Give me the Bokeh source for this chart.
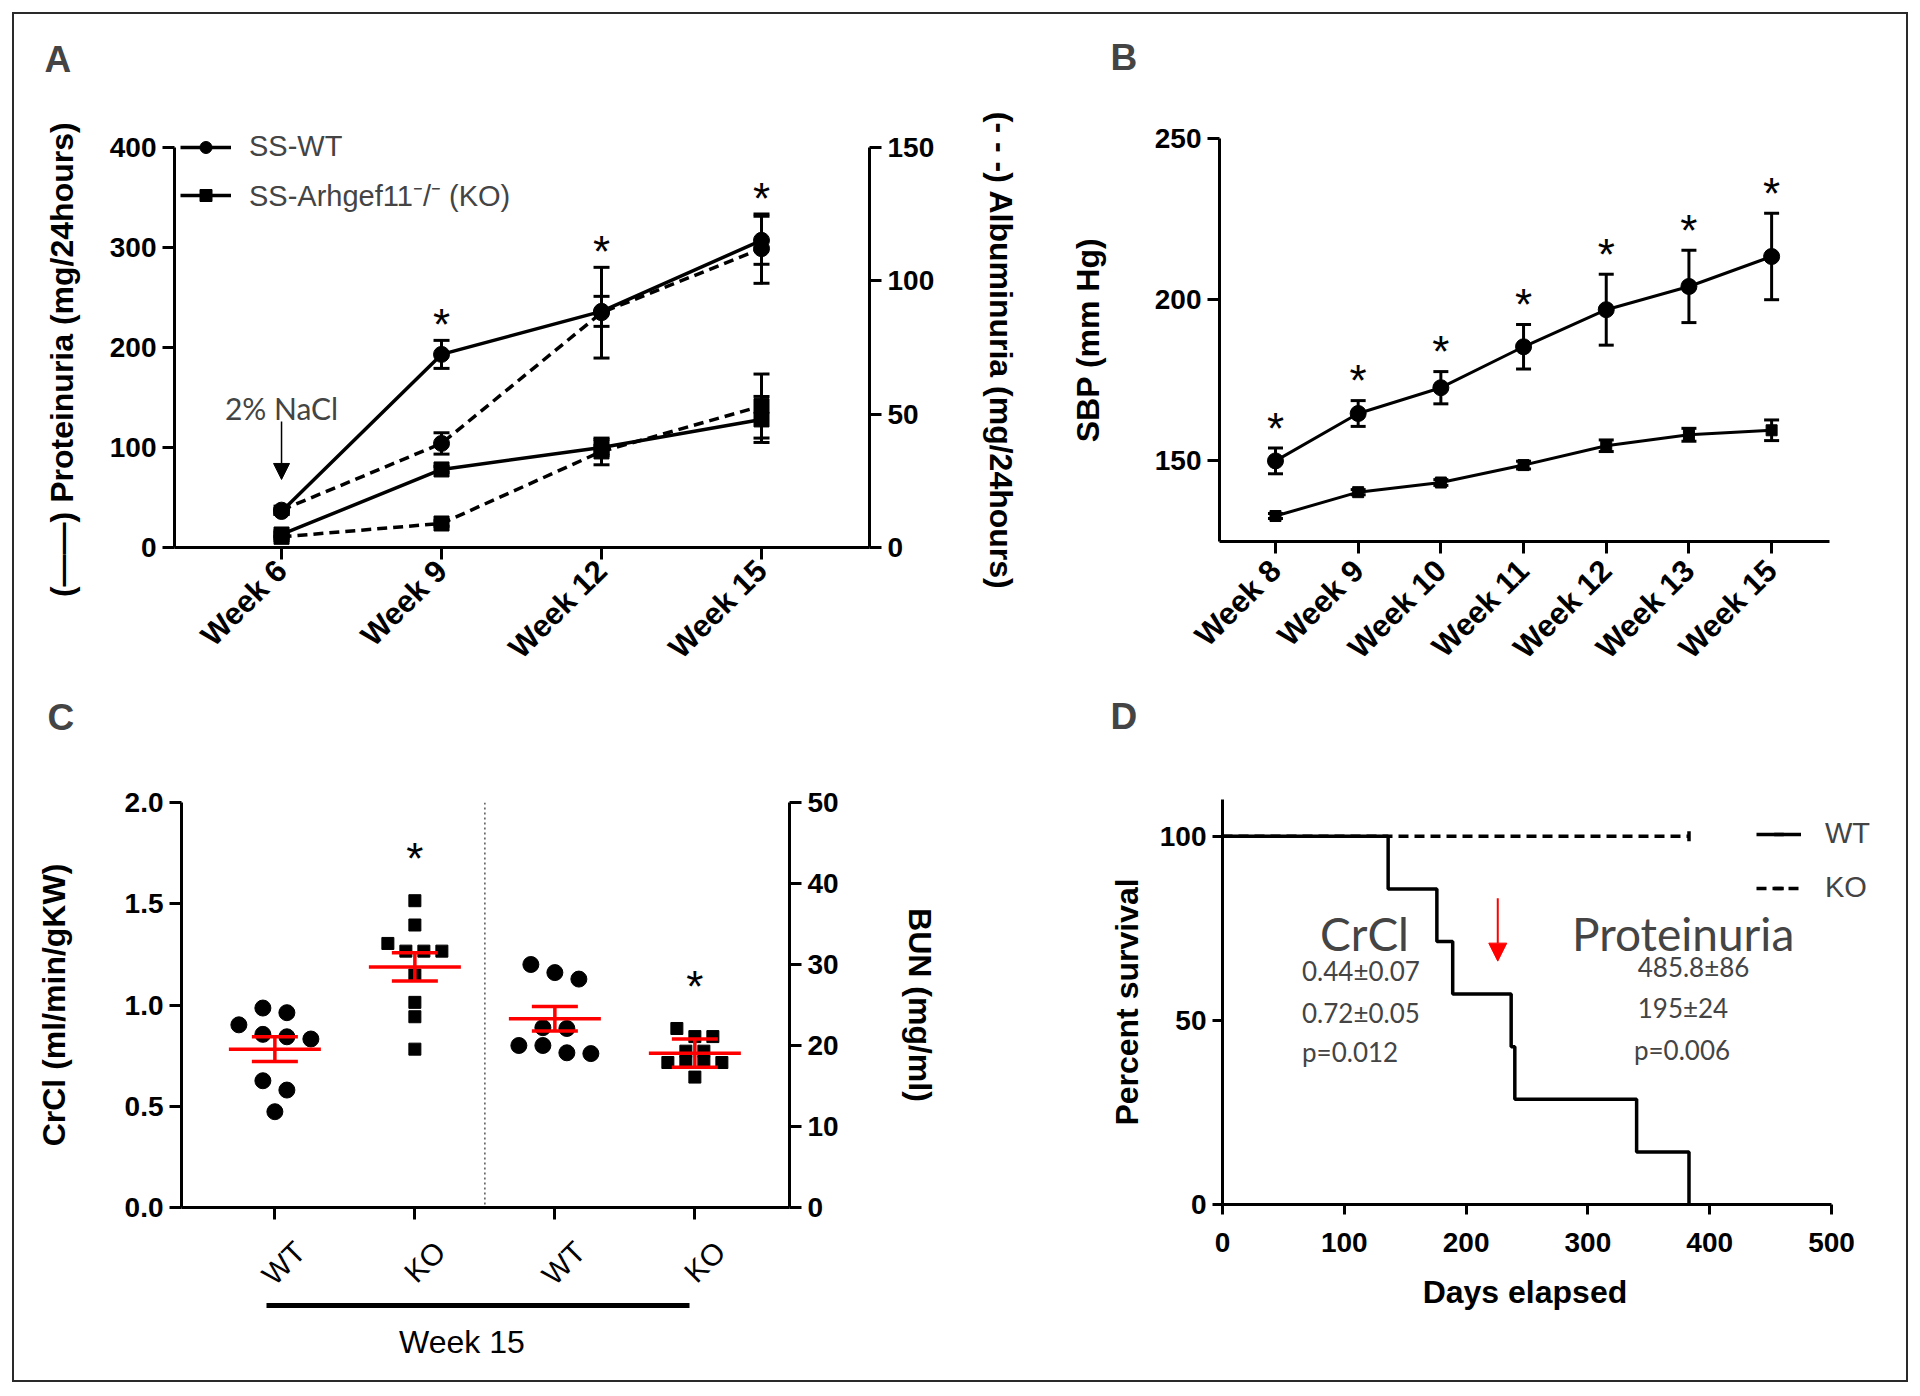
import math
import numpy as np
from bokeh.plotting import figure
from bokeh.models import (Range1d, LinearAxis, FixedTicker, Legend, LegendItem, Label,
                          Arrow, NormalHead, Span, NumeralTickFormatter, Div)
from bokeh.embed import file_html
from bokeh.resources import INLINE
from bokeh.core.properties import value

ARIAL = "Liberation Sans"
CALI = "Lato"
NB = "\u00a0"

# ---------------- Panel A data ----------------
weeks_a = ["Week 6", "Week 9", "Week 12", "Week 15"]
prot_wt = [36, 193, 236, 307]
prot_wt_sem = [3, 14, 15, 24]
prot_ko = [13, 78, 100, 128]
prot_ko_sem = [2, 3, 8, 23]
alb_wt = [14, 39, 88, 112]
alb_wt_sem = [1.5, 4, 17, 13]
alb_ko = [4, 9, 36, 53]
alb_ko_sem = [0.5, 1, 5, 12]
sig_a = [False, True, True, True]

# ---------------- Panel B data ----------------
weeks_b = ["Week 8", "Week 9", "Week 10", "Week 11", "Week 12", "Week 13", "Week 15"]
sbp_wt = [150.0, 164.7, 172.7, 185.4, 196.9, 204.1, 213.4]
sbp_wt_sem = [4.0, 4.0, 5.0, 6.9, 11.0, 11.2, 13.4]
sbp_ko = [132.9, 140.3, 143.3, 148.7, 154.7, 158.1, 159.5]
sbp_ko_sem = [0.8, 0.8, 0.9, 1.2, 1.8, 2.0, 3.2]
sig_b = [True] * 7

# ---------------- Panel C data ----------------
groups_c = ["WT", "KO", "WT", "KO"]
crcl_wt = [0.985, 0.962, 0.902, 0.855, 0.843, 0.832, 0.626, 0.580, 0.473]
crcl_ko = [1.515, 1.395, 1.304, 1.266, 1.266, 1.266, 1.148, 1.013, 0.942, 0.782]
bun_wt = [30.0, 29.0, 28.2, 22.2, 22.1, 20.0, 20.0, 19.1, 19.0]
bun_ko = [22.1, 21.1, 21.1, 19.3, 19.3, 17.9, 17.9, 17.9, 17.9, 16.1]
c_mean = [0.782, 1.188, 23.3, 19.05]
c_sem = [0.061, 0.070, 1.5, 1.75]
sig_c = [False, True, False, True]
group_label_c = "Week 15"

# ---------------- Panel D data ----------------
wt_death_days = [136, 176, 189, 237, 240, 340, 383]
ko_last_day = 383
crcl_text = ["0.44\u00b10.07", "0.72\u00b10.05", "p=0.012"]
prot_text = ["485.8\u00b186", "195\u00b124", "p=0.006"]
arrow_day = 226


def base_fig(w, h, L, R, T, B, xr, yr, letter, l_off, l_stand):
    p = figure(width=w, height=h, x_range=xr, y_range=yr, output_backend="svg",
               toolbar_location=None, min_border_left=L, min_border_right=R,
               min_border_top=T, min_border_bottom=B, title=letter)
    p.xgrid.visible = False
    p.ygrid.visible = False
    p.outline_line_color = None
    p.border_fill_color = None
    p.background_fill_color = None
    p.title.text_font = ARIAL
    p.title.text_font_size = "37px"
    p.title.text_font_style = "bold"
    p.title.align = "left"
    p.title.offset = l_off
    p.title.standoff = l_stand
    return p


def place(p, left, top):
    p.styles = {"position": "absolute", "left": f"{left}px", "top": f"{top}px"}


def style_axis(ax, bold=True, tick_out=12, standoff=6, size="28px"):
    ax.axis_line_width = 3
    ax.axis_line_color = "black"
    ax.major_tick_line_width = 3
    ax.major_tick_line_color = "black"
    ax.major_tick_out = tick_out
    ax.major_tick_in = 0
    ax.minor_tick_line_color = None
    ax.major_label_text_font = ARIAL
    ax.major_label_text_font_size = size
    ax.major_label_text_font_style = "bold" if bold else "normal"
    ax.major_label_text_color = "black"
    ax.major_label_standoff = standoff
    ax.axis_label_text_font = ARIAL
    ax.axis_label_text_font_size = "32px"
    ax.axis_label_text_font_style = "bold"
    ax.axis_label_text_color = "black"


def errbars(p, x, mean, sem, cap=16, lw=3, color="black", yr="default"):
    lo = [m - s for m, s in zip(mean, sem)]
    hi = [m + s for m, s in zip(mean, sem)]
    p.segment(x0=list(x), y0=lo, x1=list(x), y1=hi, line_width=lw, line_color=color,
              y_range_name=yr)
    p.scatter(x=list(x) * 2, y=lo + hi, marker="dash", size=cap, line_width=lw,
              line_color=color, y_range_name=yr)


def stars(p, xs, tops, sig, pad_units, size="44px", yr="default"):
    sx = [x for x, s in zip(xs, sig) if s]
    sy = [t + pad_units for t, s in zip(tops, sig) if s]
    p.text(x=sx, y=sy, text=["*"] * len(sx), text_align="center", text_baseline="middle",
           text_font=value(ARIAL), text_font_size=size, y_offset=10, y_range_name=yr)


# =============== Panel A ===============
A_PX = 405 / 400.0            # pixels per mg
A_TOP = 400 + 20 / A_PX       # headroom above the axis for the legend
xa = list(range(len(weeks_a)))
pA = base_fig(1060, 700, 176, 189, 147, 128, Range1d(-0.669, 3.675), Range1d(0, A_TOP),
              "A", -130, 96)
place(pA, -2, -20)
pA.extra_y_ranges = {"alb": Range1d(0, 150 * A_TOP / 400)}
style_axis(pA.xaxis[0], standoff=6, size="31px")
pA.xaxis.ticker = FixedTicker(ticks=xa)
pA.xaxis.major_label_overrides = {i: w for i, w in zip(xa, weeks_a)}
pA.xaxis.major_label_orientation = math.pi / 4
style_axis(pA.yaxis[0])
pA.yaxis.ticker = FixedTicker(ticks=[0, 100, 200, 300, 400])
pA.yaxis.bounds = (0, 400)
pA.yaxis.axis_label = "(\u2014\u2014) Proteinuria (mg/24hours)" + NB * 5
pA.yaxis.axis_label_standoff = 27
axR = LinearAxis(y_range_name="alb", ticker=FixedTicker(ticks=[0, 50, 100, 150]),
                 axis_label=NB * 3 + "(- - -) Albuminuria (mg/24hours)", bounds=(0, 150))
style_axis(axR)
axR.axis_label_standoff = 46
pA.add_layout(axR, "right")

alb_to_left = 400.0 / 150.0
l_ko = pA.line(xa, prot_ko, line_width=3.5, line_color="black")
pA.line(xa, alb_ko, line_width=3.5, line_color="black", line_dash="10 6", y_range_name="alb")
l_wt = pA.line(xa, prot_wt, line_width=3.5, line_color="black")
pA.line(xa, alb_wt, line_width=3.5, line_color="black", line_dash="10 6", y_range_name="alb")
errbars(pA, xa, prot_wt, prot_wt_sem)
errbars(pA, xa, prot_ko, prot_ko_sem)
errbars(pA, xa, alb_wt, alb_wt_sem, yr="alb")
errbars(pA, xa, alb_ko, alb_ko_sem, yr="alb")
m_ko = pA.scatter(xa, prot_ko, marker="square", size=15, color="black")
pA.scatter(xa, alb_ko, marker="square", size=15, color="black", y_range_name="alb")
m_wt = pA.scatter(xa, prot_wt, marker="circle", size=16, color="black")
pA.scatter(xa, alb_wt, marker="circle", size=16, color="black", y_range_name="alb")

tops_a = [max(a + b, c + d, (e + f) * alb_to_left, (g + h) * alb_to_left)
          for a, b, c, d, e, f, g, h in zip(prot_wt, prot_wt_sem, prot_ko, prot_ko_sem,
                                            alb_wt, alb_wt_sem, alb_ko, alb_ko_sem)]
stars(pA, xa, tops_a, sig_a, 26 / A_PX)

legA = Legend(items=[LegendItem(label="SS-WT", renderers=[l_wt, m_wt]),
                     LegendItem(label="SS-Arhgef11\u207b/\u207b (KO)", renderers=[l_ko, m_ko])],
              location=(6, 333), glyph_width=51, glyph_height=30, label_height=30,
              spacing=12, padding=0, margin=0, label_standoff=18,
              label_text_font=ARIAL, label_text_font_size="29px",
              border_line_color=None, background_fill_alpha=0)
pA.add_layout(legA)

pA.add_layout(Arrow(end=NormalHead(size=16, fill_color="black", line_color="black"),
                    x_start=xa[0], y_start=126, x_end=xa[0], y_end=68, line_width=1.5))
pA.add_layout(Label(x=xa[0], y=139, text="2% NaCl", text_font=CALI, text_font_size="30px",
                    text_align="center", text_baseline="middle"))

# =============== Panel B ===============
xb = list(range(len(weeks_b)))
pB = base_fig(860, 710, 161, 89, 168, 134, Range1d(-0.677, 6.70), Range1d(125, 250),
              "B", -109, 122)
place(pB, 1058, -30)
style_axis(pB.xaxis[0], standoff=12, size="31px")
pB.xaxis.ticker = FixedTicker(ticks=xb)
pB.xaxis.major_label_overrides = {i: w for i, w in zip(xb, weeks_b)}
pB.xaxis.major_label_orientation = math.pi / 4
style_axis(pB.yaxis[0])
pB.yaxis.ticker = FixedTicker(ticks=[150, 200, 250])
pB.yaxis.axis_label = "SBP (mm Hg)"
pB.yaxis.axis_label_standoff = 46

pB.line(xb, sbp_wt, line_width=3, line_color="black")
pB.line(xb, sbp_ko, line_width=3, line_color="black")
errbars(pB, xb, sbp_wt, sbp_wt_sem, cap=15)
errbars(pB, xb, sbp_ko, sbp_ko_sem, cap=15)
pB.scatter(xb, sbp_wt, marker="circle", size=16, color="black")
pB.scatter(xb, sbp_ko, marker="square", size=11, color="black")
tops_b = [m + s for m, s in zip(sbp_wt, sbp_wt_sem)]
stars(pB, xb, tops_b, sig_b, 30 * 125 / 408)

# =============== Panel C ===============
xc = list(range(len(groups_c)))
pC = base_fig(1060, 772, 183, 269, 182, 185, Range1d(-0.667, 3.676), Range1d(0, 2),
              "C", -134, 130)
place(pC, -2, 620)
pC.extra_y_ranges = {"bun": Range1d(0, 50)}
style_axis(pC.xaxis[0], bold=False, standoff=0, size="0px")
pC.xaxis.ticker = FixedTicker(ticks=xc)
pC.xaxis.major_label_overrides = {i: "" for i in xc}
style_axis(pC.yaxis[0])
pC.yaxis.ticker = FixedTicker(ticks=[0, 0.5, 1.0, 1.5, 2.0])
pC.yaxis.formatter = NumeralTickFormatter(format="0.0")
pC.yaxis.axis_label = "CrCl (ml/min/gKW)"
pC.yaxis.axis_label_standoff = 50
axRC = LinearAxis(y_range_name="bun", ticker=FixedTicker(ticks=[0, 10, 20, 30, 40, 50]),
                  axis_label="BUN (mg/ml)")
style_axis(axRC)
axRC.axis_label_standoff = 60
pC.add_layout(axRC, "right")

# rotated group names, anchored slightly right of each tick (as in the original)
lab_pos = [x + 0.18 for x in xc]
axL = LinearAxis(ticker=FixedTicker(ticks=lab_pos),
                 major_label_overrides={x: g for x, g in zip(lab_pos, groups_c)})
style_axis(axL, bold=False, tick_out=0, standoff=27, size="30px")
axL.axis_line_color = None
axL.major_tick_line_color = None
axL.major_label_orientation = math.pi / 4
pC.add_layout(axL, "below")

# group bar + "Week 15" under the categories
c_mid = 1.336
axG = LinearAxis(bounds=(xc[0] - 0.06, xc[-1] - 0.04), ticker=FixedTicker(ticks=[c_mid]),
                 major_label_overrides={c_mid: group_label_c})
style_axis(axG, bold=False, tick_out=0, standoff=18, size="32px")
axG.axis_line_width = 5
axG.major_tick_line_color = None
pC.add_layout(axG, "below")

PX_PER_CAT = 608 / (3.676 + 0.667)


def swarm(vals, px_per_unit, bin_px, step_px):
    order = sorted(range(len(vals)), key=lambda i: -vals[i])
    offs = [0.0] * len(vals)
    i = 0
    while i < len(order):
        top = vals[order[i]]
        grp = [order[i]]
        j = i + 1
        while j < len(order) and (top - vals[order[j]]) * px_per_unit < bin_px:
            grp.append(order[j])
            j += 1
        n = len(grp)
        for k, idx in enumerate(grp):
            offs[idx] = (k - (n - 1) / 2) * step_px / PX_PER_CAT
        i = j
    return offs


series_c = [(crcl_wt, "circle", "default", 405 / 2.0),
            (crcl_ko, "square", "default", 405 / 2.0),
            (bun_wt, "circle", "bun", 405 / 50.0),
            (bun_ko, "square", "bun", 405 / 50.0)]
pC.add_layout(Span(location=1.5, dimension="height", line_color="#555555", line_width=1.5,
                   line_dash="2 3"))
tops_c = []
for xi, (vals, mk, yr, ppu) in zip(xc, series_c):
    if mk == "circle":
        offs = swarm(vals, ppu, 15, 24)
        pC.scatter([xi + o for o in offs], vals, marker="circle", size=16, color="black",
                   y_range_name=yr)
    else:
        offs = swarm(vals, ppu, 11, 18)
        pC.scatter([xi + o for o in offs], vals, marker="square", size=12, color="black",
                   y_range_name=yr)
    tops_c.append((max(vals), ppu, yr))

for xi, m, s, (_, _, yr) in zip(xc, c_mean, c_sem, tops_c):
    pC.segment(x0=[xi], y0=[m - s], x1=[xi], y1=[m + s], line_color="red", line_width=3.5,
               y_range_name=yr)
    pC.scatter([xi], [m], marker="dash", size=92, line_color="red", line_width=3.5,
               y_range_name=yr)
    pC.scatter([xi, xi], [m - s, m + s], marker="dash", size=46, line_color="red",
               line_width=3.5, y_range_name=yr)

for xi, sg, (tp, ppu, yr) in zip(xc, sig_c, tops_c):
    stars(pC, [xi], [tp], [sg], 52 / ppu, yr=yr)

# =============== Panel D ===============
D_PX = 609 / 500.0
pD = base_fig(860, 772, 164, 20, 179, 188, Range1d(0, (860 - 164 - 20) / D_PX),
              Range1d(0, 110), "D", -112, 125)
place(pD, 1058, 620)
style_axis(pD.xaxis[0], tick_out=10, standoff=18)
pD.xaxis.ticker = FixedTicker(ticks=[0, 100, 200, 300, 400, 500])
pD.xaxis.bounds = (0, 500)
pD.xaxis.axis_label = "Days elapsed" + NB * 8
pD.xaxis.axis_label_standoff = 19
style_axis(pD.yaxis[0], tick_out=10)
pD.yaxis.ticker = FixedTicker(ticks=[0, 50, 100])
pD.yaxis.axis_label = "Percent survival"
pD.yaxis.axis_label_standoff = 12

n_wt = len(wt_death_days)
km_t = [0] + sorted(wt_death_days)
km_s = [100.0] + [100.0 * (n_wt - i - 1) / n_wt for i in range(n_wt)]
ko_line = pD.line([0, ko_last_day], [100, 100], line_width=3.5, line_color="black",
                  line_dash="10 6")
ko_tick = pD.scatter([ko_last_day], [100], marker="dash", angle=math.pi / 2, size=10,
                     line_width=3.5, line_color="black")
wt_line = pD.step(km_t, km_s, mode="after", line_width=3.5, line_color="black")

legD = Legend(items=[LegendItem(label="WT", renderers=[wt_line, ko_tick]),
                     LegendItem(label="KO", renderers=[ko_line, ko_tick])],
              location=(534, 300), glyph_width=45, glyph_height=24, label_height=24,
              spacing=21, padding=0, margin=0, label_standoff=24,
              label_text_font=ARIAL, label_text_font_size="29px",
              border_line_color=None, background_fill_alpha=0)
pD.add_layout(legD)

pD.add_layout(Label(x=116.6, y=73.6, text="CrCl", text_font=CALI, text_font_size="46px",
                    text_align="center", text_baseline="middle"))
for t, yy in zip(crcl_text, [63.3, 51.9, 41.4]):
    pD.add_layout(Label(x=65.3, y=yy, text=t, text_font=CALI, text_font_size="26px",
                        text_align="left", text_baseline="middle"))
pD.add_layout(Label(x=286.9, y=73.6, text="Proteinuria", text_font=CALI,
                    text_font_size="46px", text_align="left", text_baseline="middle"))
for t, xx, yy in zip(prot_text, [340.9, 340.9, 337.8], [64.5, 53.4, 41.9]):
    pD.add_layout(Label(x=xx, y=yy, text=t, text_font=CALI, text_font_size="26px",
                        text_align="left", text_baseline="middle"))
pD.add_layout(Arrow(end=NormalHead(size=18, fill_color="red", line_color="red"),
                    x_start=arrow_day, y_start=83.2, x_end=arrow_day, y_end=66.1,
                    line_color="red", line_width=2))

frame_div = Div(text="", width=1896, height=1370, margin=0,
                styles={"position": "absolute", "left": "12px", "top": "12px",
                        "border": "2px solid #2a2a2a", "box-sizing": "border-box"})

open("out.html", "w").write(file_html([frame_div, pA, pB, pC, pD], INLINE))
